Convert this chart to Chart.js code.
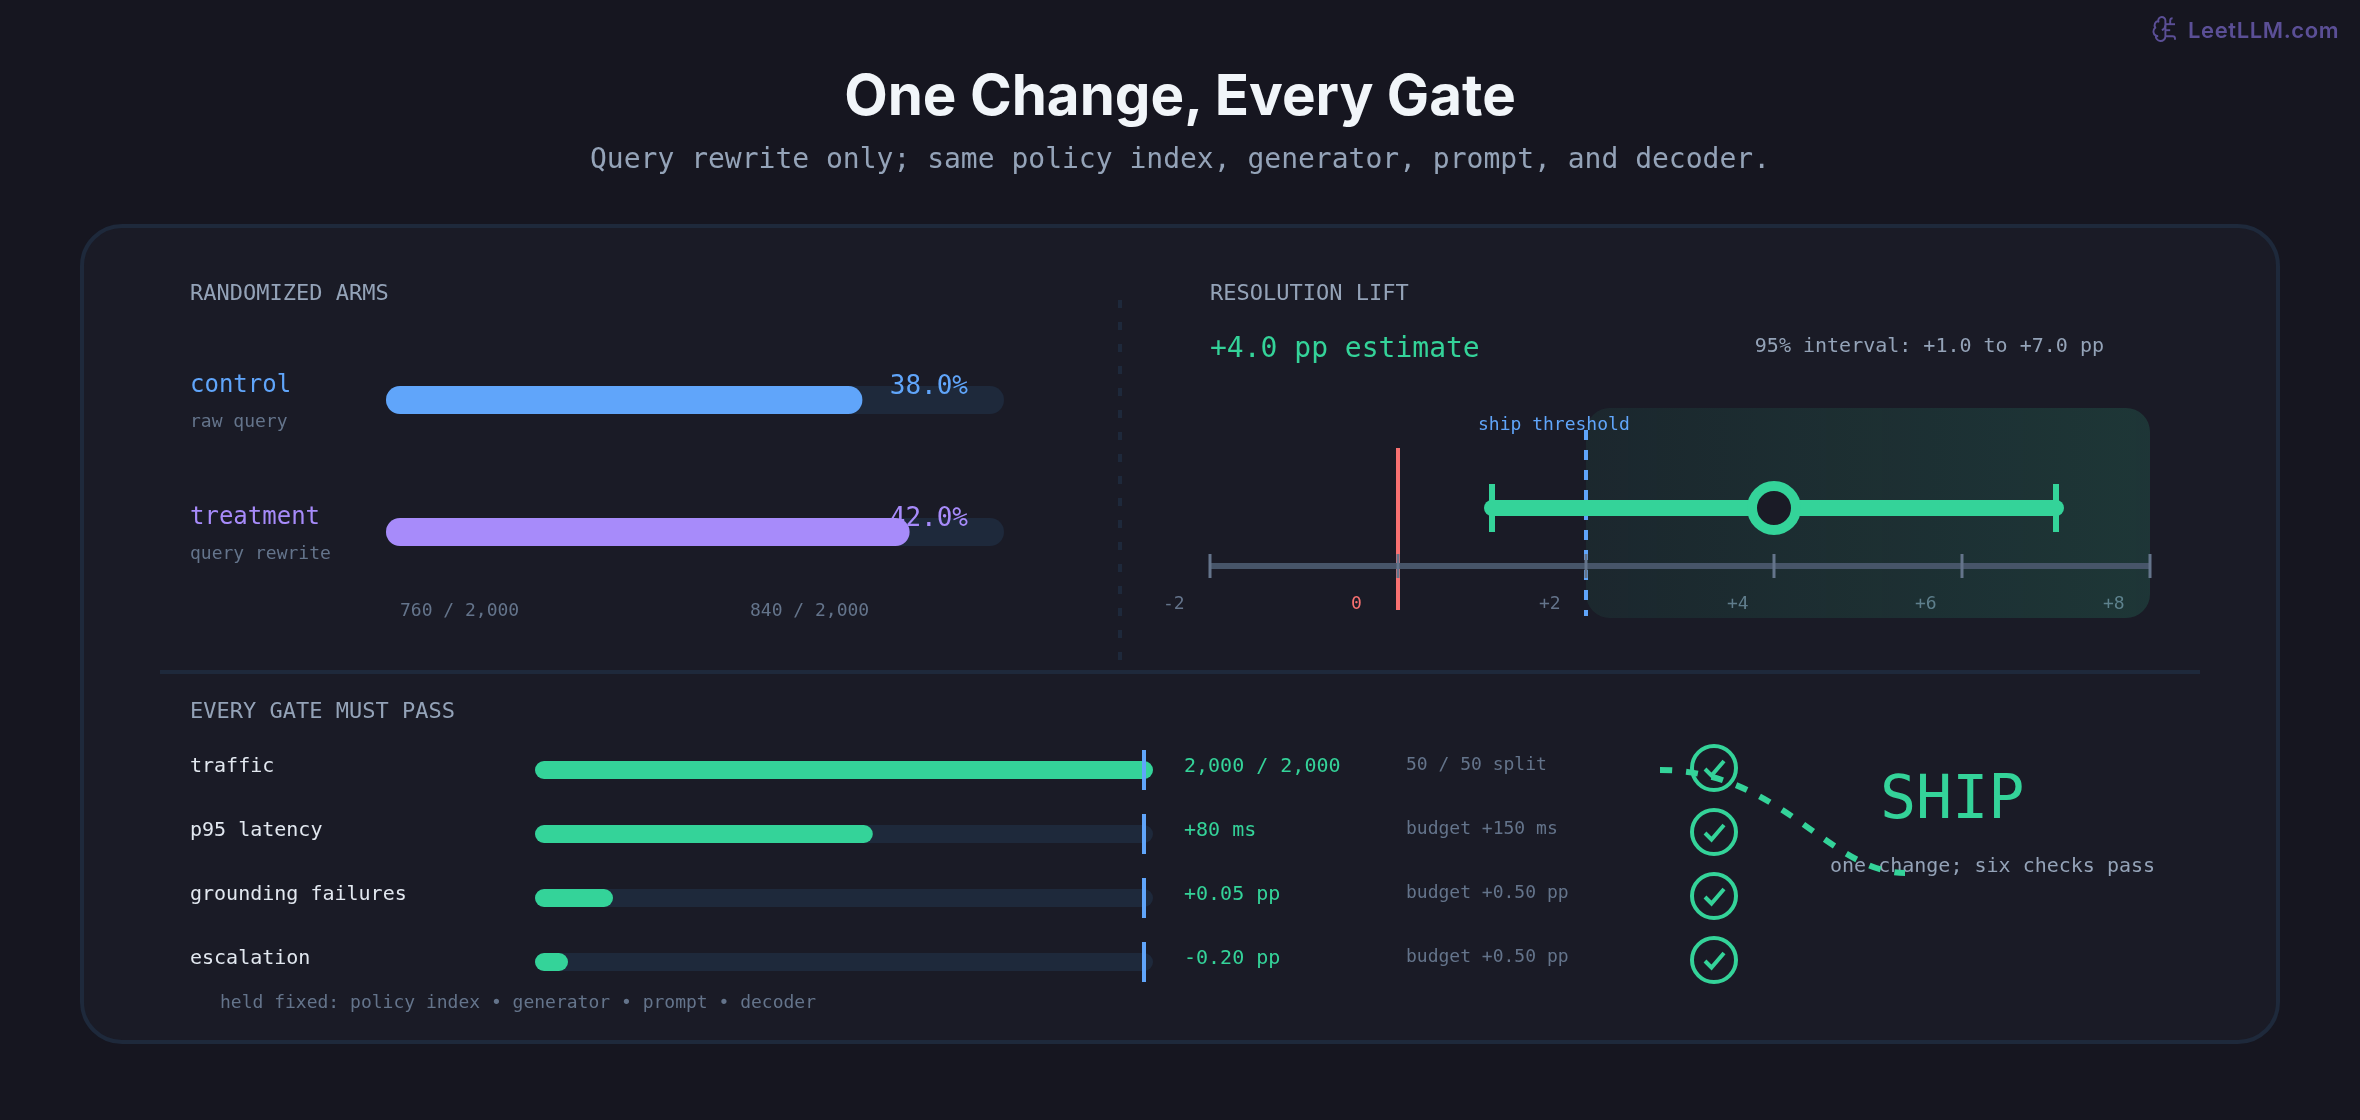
<!DOCTYPE html>
<html lang="en">
<head>
<meta charset="utf-8">
<title>One Change, Every Gate</title>
<script src="https://cdn.jsdelivr.net/npm/chart.js@4"></script>
<style>
    html, body { margin: 0; padding: 0; background: #161620; }
    #stage { position: relative; width: 2360px; height: 1120px; overflow: hidden; }
    #stage canvas, #stage svg { position: absolute; }
    #backdrop, #overlay { left: 0; top: 0; pointer-events: none; }
    #overlay { z-index: 3; }
    #stage canvas { z-index: 2; }
    #overlay text { font-family: "DejaVu Sans Mono", monospace; }
    #overlay .sans { font-family: Inter, sans-serif; }
</style>
</head>
<body>
<div id="stage">
    <svg id="backdrop" width="2360" height="1120">
        <rect x="82" y="226" width="2196" height="816" rx="40" fill="#1a1b26" stroke="#1e293b" stroke-width="4"/>
        <line x1="160" y1="672" x2="2200" y2="672" stroke="#1e293b" stroke-width="4"/>
        <line x1="1120" y1="300" x2="1120" y2="660" stroke="#1e293b" stroke-width="4" stroke-dasharray="8 14"/>
    </svg>
    <canvas id="arms-chart" width="700" height="320" style="left:340px;top:300px"></canvas>
    <canvas id="lift-chart" width="1100" height="240" style="left:1100px;top:400px"></canvas>
    <canvas id="gates-chart" width="1300" height="320" style="left:500px;top:700px"></canvas>
    <svg id="overlay" width="2360" height="1120"></svg>
</div>

<script>
// Randomized arms
const armNames = ['control', 'treatment'];
const armNotes = ['raw query', 'query rewrite'];
const armRates = [38.0, 42.0];
const armCounts = ['760 / 2,000', '840 / 2,000'];
const armRateMax = 50;

// Resolution lift, in percentage points
const liftTickValues = [-2, 0, 2, 4, 6, 8];
const liftTickLabels = ['-2', '0', '+2', '+4', '+6', '+8'];
const liftEstimate = 4.0;
const liftInterval = [1.0, 7.0];
const shipThreshold = 2;

// Gates, bar length is the share of each gate's budget
const gateNames = ['traffic', 'p95 latency', 'grounding failures', 'escalation'];
const gateResults = ['2,000 / 2,000', '+80 ms', '+0.05 pp', '-0.20 pp'];
const gateBudgets = ['50 / 50 split', 'budget +150 ms', 'budget +0.50 pp', 'budget +0.50 pp'];
const gateShares = [100, 53.3, 10, 2.5];

const GREEN = '#34d399';
const BLUE = '#60a5fa';
const PURPLE = '#a78bfa';
const RED = '#f87171';
const TRACK = '#1e293b';
const SLATE = '#94a3b8';
const MUTED = '#64748b';
const CARD = '#1a1b26';
const MONO = '"DejaVu Sans Mono", monospace';

const armColors = [BLUE, PURPLE];

Chart.defaults.animation = false;
Chart.defaults.events = [];
Chart.defaults.plugins.legend.display = false;
Chart.defaults.plugins.tooltip.enabled = false;

// Static text goes in the top svg layer so it stays selectable
const overlay = document.getElementById('overlay');
function addText(str, x, y, size, fill, extra = {}) {
    const el = document.createElementNS('http://www.w3.org/2000/svg', 'text');
    el.textContent = str;
    el.setAttribute('x', x);
    el.setAttribute('y', y);
    el.setAttribute('font-size', size);
    el.setAttribute('fill', fill);
    if (extra.anchor) el.setAttribute('text-anchor', extra.anchor);
    if (extra.weight) el.setAttribute('font-weight', extra.weight);
    if (extra.cls) el.setAttribute('class', extra.cls);
    if (extra.spacing) el.setAttribute('letter-spacing', extra.spacing);
    overlay.appendChild(el);
}

function addHeader() {
    addText('One Change, Every Gate', 1180, 115, 56.5, '#f1f5f9', { anchor: 'middle', weight: 700, cls: 'sans' });
    addText('Query rewrite only; same policy index, generator, prompt, and decoder.', 1180, 168, 28, SLATE, { anchor: 'middle' });
    addText('LeetLLM.com', 2188, 38, 22, '#5b4f96', { weight: 600, cls: 'sans', spacing: 0.6 });

    // brain-circuit mark next to the site name
    const paths = [
        'M12 5a3 3 0 1 0-5.997.125 4 4 0 0 0-2.526 5.77 4 4 0 0 0 .556 6.588A4 4 0 1 0 12 18Z',
        'M9 13a4.5 4.5 0 0 0 3-4', 'M6.003 5.125A3 3 0 0 0 6.401 6.5', 'M3.477 10.896a4 4 0 0 1 .585-.396',
        'M6 18a4 4 0 0 1-1.967-.516', 'M12 13h4', 'M12 18h6a2 2 0 0 1 2 2v1', 'M12 8h8', 'M16 8V5a2 2 0 0 1 2-2'
    ];
    const g = document.createElementNS('http://www.w3.org/2000/svg', 'g');
    g.setAttribute('transform', 'translate(2151 14.6) scale(1.2)');
    g.setAttribute('fill', 'none');
    g.setAttribute('stroke', '#5b4f96');
    g.setAttribute('stroke-width', '1.6');
    paths.forEach(d => {
        const p = document.createElementNS('http://www.w3.org/2000/svg', 'path');
        p.setAttribute('d', d);
        g.appendChild(p);
    });
    overlay.appendChild(g);
}

function addPanelText() {
    addText('RANDOMIZED ARMS', 190, 300, 22, SLATE);
    armNames.forEach((name, i) => {
        addText(name, 190, 392 + i * 132, 24, armColors[i]);
        addText(armNotes[i], 190, 427 + i * 132, 18, MUTED);
        addText(armCounts[i], 400 + i * 350, 616, 18, MUTED);
    });

    addText('RESOLUTION LIFT', 1210, 300, 22, SLATE);
    addText('+4.0 pp estimate', 1210, 357, 28, GREEN);
    addText('95% interval: +1.0 to +7.0 pp', 2104, 352, 20, SLATE, { anchor: 'end' });
    addText('ship threshold', 1478, 430, 18, BLUE);

    addText('EVERY GATE MUST PASS', 190, 718, 22, SLATE);
    gateNames.forEach((name, i) => {
        const step = i * 64;
        addText(name, 190, 772 + step, 20, '#e2e8f0');
        addText(gateResults[i], 1184, 772 + step, 20, GREEN);
        addText(gateBudgets[i], 1406, 770 + step, 18, MUTED);
    });
    addText('held fixed: policy index \u2022 generator \u2022 prompt \u2022 decoder', 220, 1008, 18, MUTED);

    addText('SHIP', 1880, 818, 60, GREEN);
    addText('one change; six checks pass', 1830, 872, 20, SLATE);
}

// Dashed connector from the first gate to the verdict
function addConnector() {
    const p = document.createElementNS('http://www.w3.org/2000/svg', 'path');
    p.setAttribute('d', 'M1660 770 C1780 770 1830 873 1905 873');
    p.setAttribute('fill', 'none');
    p.setAttribute('stroke', GREEN);
    p.setAttribute('stroke-width', '6');
    p.setAttribute('stroke-dasharray', '12 14');
    overlay.appendChild(p);
}

// Horizontal round-capped bar, drawn as a two point line
function capBar(row, from, to, color, width) {
    return {
        data: [{ x: from, y: row }, { x: to, y: row }],
        showLine: true,
        borderColor: color,
        borderWidth: width,
        borderCapStyle: 'round',
        pointRadius: 0,
        clip: false
    };
}

function hiddenScales(xMax, rows) {
    return {
        x: { type: 'linear', display: false, min: 0, max: xMax },
        y: { type: 'linear', display: false, reverse: true, min: -0.5, max: rows - 0.5 }
    };
}

function renderArms() {
    // Rate labels sit above the track but under the coloured fill
    const rateLabels = {
        id: 'rateLabels',
        beforeDatasetDraw(chart, args) {
            if (args.index >= armRates.length) return;
            const { ctx, scales } = chart;
            ctx.save();
            ctx.font = '26px ' + MONO;
            ctx.textAlign = 'right';
            ctx.textBaseline = 'alphabetic';
            ctx.fillStyle = armColors[args.index];
            ctx.fillText(armRates[args.index].toFixed(1) + '%', scales.x.getPixelForValue(armRateMax) - 22, scales.y.getPixelForValue(args.index) - 6);
            ctx.restore();
        }
    };

    new Chart(document.getElementById('arms-chart'), {
        type: 'scatter',
        data: {
            datasets: [
                ...armRates.map((v, i) => capBar(i, 0, v, armColors[i], 28)),
                ...armRates.map((v, i) => capBar(i, 0, armRateMax, TRACK, 28))
            ]
        },
        options: {
            responsive: false,
            layout: { padding: { left: 60, right: 50, top: 34, bottom: 22 } },
            scales: hiddenScales(armRateMax, armRates.length)
        },
        plugins: [rateLabels]
    });
}

function renderLift() {
    const estimateRow = 2;
    const axisRow = 1;

    // Rounded region right of the ship threshold
    const shipBand = {
        id: 'shipBand',
        beforeDatasetsDraw(chart) {
            const { ctx, scales, chartArea } = chart;
            const left = scales.x.getPixelForValue(shipThreshold);
            const right = scales.x.getPixelForValue(liftTickValues[liftTickValues.length - 1]);
            const fill = ctx.createLinearGradient(left, 0, right, 0);
            fill.addColorStop(0, 'rgba(52,211,153,0.07)');
            fill.addColorStop(1, 'rgba(52,211,153,0.15)');
            ctx.save();
            ctx.fillStyle = fill;
            ctx.beginPath();
            ctx.roundRect(left, chartArea.top - 42, right - left, 210, 24);
            ctx.fill();
            ctx.restore();
        }
    };

    const vertical = (x, top, bottom, color, width, dash) => ({
        data: [{ x, y: top }, { x, y: bottom }],
        showLine: true,
        borderColor: color,
        borderWidth: width,
        borderDash: dash || [],
        pointRadius: 0,
        clip: false
    });

    const marks = (points, radius, width, color) => ({
        data: points,
        showLine: false,
        pointStyle: 'line',
        pointRotation: 90,
        pointRadius: radius,
        pointBorderWidth: width,
        pointBorderColor: color,
        clip: false
    });

    new Chart(document.getElementById('lift-chart'), {
        type: 'scatter',
        data: {
            datasets: [
                {
                    data: [{ x: liftEstimate, y: estimateRow }],
                    pointRadius: 22,
                    pointBorderWidth: 10,
                    pointBorderColor: GREEN,
                    pointBackgroundColor: CARD,
                    clip: false
                },
                marks(liftInterval.map(x => ({ x, y: estimateRow })), 24, 6, GREEN),
                capBar(estimateRow, liftInterval[0], liftInterval[1], GREEN, 16),
                marks(liftTickValues.map(x => ({ x, y: axisRow })), 12, 3, MUTED),
                { ...capBar(axisRow, liftTickValues[0], liftTickValues[5], '#475569', 6), borderCapStyle: 'butt' },
                vertical(shipThreshold, 3.345, 0.138, BLUE, 4, [10, 10]),
                vertical(0, 3.034, 0.241, RED, 4)
            ]
        },
        options: {
            responsive: false,
            layout: { padding: { left: 110, right: 50, top: 50, bottom: 0 } },
            scales: {
                x: {
                    type: 'linear',
                    min: liftTickValues[0],
                    max: liftTickValues[5],
                    grid: { display: false },
                    border: { display: false },
                    afterFit: s => { s.height = 45; },
                    ticks: {
                        stepSize: 2,
                        autoSkip: false,
                        maxRotation: 0,
                        minRotation: 0,
                        align: 'start',
                        labelOffset: -47,
                        padding: -9,
                        font: { family: MONO, size: 18 },
                        color: ctx => (ctx.tick.value === 0 ? RED : MUTED),
                        callback: (v, i) => liftTickLabels[i]
                    }
                },
                y: { type: 'linear', display: false, min: 0.5, max: 3 }
            }
        },
        plugins: [shipBand]
    });
}

function renderGates() {
    // Pass badge at the end of each gate row
    const passBadges = {
        id: 'passBadges',
        afterDatasetsDraw(chart) {
            const { ctx, scales } = chart;
            const cx = scales.x.getPixelForValue(100) + 570;
            ctx.save();
            ctx.strokeStyle = GREEN;
            gateShares.forEach((share, row) => {
                const cy = scales.y.getPixelForValue(row) - 2;
                ctx.lineWidth = 4;
                ctx.beginPath();
                ctx.arc(cx, cy, 22, 0, Math.PI * 2);
                ctx.stroke();
                ctx.lineWidth = 4;
                ctx.beginPath();
                ctx.moveTo(cx - 9, cy + 1);
                ctx.lineTo(cx - 2.5, cy + 7.5);
                ctx.lineTo(cx + 10, cy - 7);
                ctx.stroke();
            });
            ctx.restore();
        }
    };

    new Chart(document.getElementById('gates-chart'), {
        type: 'scatter',
        data: {
            datasets: [
                {
                    data: gateShares.map((s, row) => ({ x: 100, y: row })),
                    pointStyle: 'line',
                    pointRotation: 90,
                    pointRadius: 20,
                    pointBorderWidth: 4,
                    pointBorderColor: BLUE,
                    clip: false
                },
                ...gateShares.map((s, row) => capBar(row, 0, s, GREEN, 18)),
                ...gateShares.map((s, row) => capBar(row, 0, 100, TRACK, 18))
            ]
        },
        options: {
            responsive: false,
            layout: { padding: { left: 44, right: 656, top: 38, bottom: 26 } },
            scales: hiddenScales(100, gateShares.length)
        },
        plugins: [passBadges]
    });
}

document.addEventListener('DOMContentLoaded', () => {
    addHeader();
    addPanelText();
    addConnector();
    renderArms();
    renderLift();
    renderGates();
});
</script>
</body>
</html>
